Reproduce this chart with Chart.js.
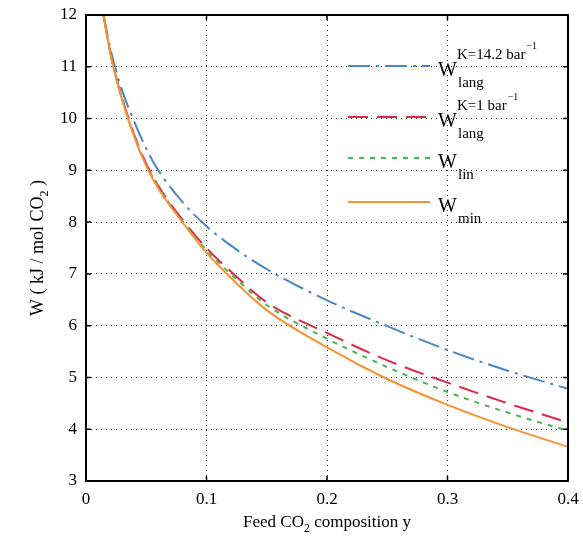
<!DOCTYPE html>
<html>
<head>
<meta charset="utf-8">
<script src="https://cdn.jsdelivr.net/npm/chart.js@4/dist/chart.umd.min.js"></script>
<style>
  html, body { margin: 0; padding: 0; background: #fff; }
  #wrap { width: 583px; height: 545px; }
</style>
</head>
<body>
<div id="wrap"><canvas id="myChart" width="583" height="545"></canvas></div>
<script>
// feed composition (x axis)
const feedY = [0.0145, 0.02, 0.025, 0.03, 0.04, 0.05, 0.06, 0.08, 0.1, 0.12, 0.15, 0.2, 0.25, 0.3, 0.35, 0.4];

// work values (kJ / mol CO2)
const wLangK142 = [12.0, 11.38, 10.92, 10.54, 9.94, 9.42, 9.0, 8.39, 7.92, 7.55, 7.09, 6.49, 5.99, 5.53, 5.13, 4.78];
const wLangK1   = [12.0, 11.3, 10.8, 10.39, 9.69, 9.13, 8.7, 8.05, 7.5, 7.05, 6.45, 5.86, 5.33, 4.9, 4.5, 4.13];
const wLin      = [12.0, 11.29, 10.79, 10.38, 9.67, 9.11, 8.68, 8.02, 7.46, 7.0, 6.4, 5.75, 5.2, 4.72, 4.32, 3.97];
const wMin      = [12.0, 11.28, 10.78, 10.36, 9.65, 9.08, 8.65, 8.0, 7.41, 6.93, 6.3, 5.58, 4.97, 4.47, 4.04, 3.66];

const xTicks = [0, 0.1, 0.2, 0.3, 0.4];
const yTicks = [3, 4, 5, 6, 7, 8, 9, 10, 11, 12];

const serif = '"Liberation Serif", "Times New Roman", serif';

const series = [
    { data: wLangK142, color: "rgb(74, 134, 196)", dash: [22, 6, 3, 6], sup: "K=14.2 bar", sub: "lang" },
    { data: wLangK1,   color: "rgb(222, 40, 72)",  dash: [20, 9],       sup: "K=1 bar",    sub: "lang" },
    { data: wLin,      color: "rgb(70, 180, 80)",  dash: [5, 6],        sup: null,         sub: "lin" },
    { data: wMin,      color: "rgb(246, 146, 52)", dash: [],            sup: null,         sub: "min" }
];

function toPoints(arr) {
    return feedY.map((x, i) => ({ x: x, y: arr[i] }));
}

// frame, inward ticks, axis titles and the legend with sub/superscripts
const decorations = {
    id: "decorations",
    afterDraw(chart) {
        const ctx = chart.ctx;
        const a = chart.chartArea;
        const xs = chart.scales.x, ys = chart.scales.y;
        ctx.save();

        // inward tick marks
        ctx.strokeStyle = "#000";
        ctx.lineWidth = 1.5;
        ctx.beginPath();
        xTicks.forEach(t => {
            const px = xs.getPixelForValue(t);
            ctx.moveTo(px, a.bottom); ctx.lineTo(px, a.bottom - 5);
            ctx.moveTo(px, a.top); ctx.lineTo(px, a.top + 5);
        });
        yTicks.forEach(t => {
            const py = ys.getPixelForValue(t);
            ctx.moveTo(a.left, py); ctx.lineTo(a.left + 5, py);
            ctx.moveTo(a.right, py); ctx.lineTo(a.right - 5, py);
        });
        ctx.stroke();

        // frame
        ctx.lineWidth = 2;
        ctx.strokeRect(a.left, a.top, a.right - a.left, a.bottom - a.top);

        ctx.fillStyle = "#000";
        ctx.textBaseline = "alphabetic";
        ctx.textAlign = "left";

        // x title
        const big = "17px " + serif, small = "12px " + serif;
        ctx.font = big;
        const p1 = "Feed CO", p3 = " composition y";
        const w1 = ctx.measureText(p1).width, w3 = ctx.measureText(p3).width;
        ctx.font = small;
        const w2 = ctx.measureText("2").width;
        let x0 = (a.left + a.right) / 2 - (w1 + w2 + w3) / 2;
        const by = 527;
        ctx.font = big; ctx.fillText(p1, x0, by);
        ctx.font = small; ctx.fillText("2", x0 + w1, by + 5);
        ctx.font = big; ctx.fillText(p3, x0 + w1 + w2, by);

        // y title (rotated)
        ctx.save();
        ctx.translate(43, (a.top + a.bottom) / 2);
        ctx.rotate(-Math.PI / 2);
        const q1 = "W ( kJ / mol CO", q3 = " )";
        const bigY = "18px " + serif;
        ctx.font = bigY;
        const v1 = ctx.measureText(q1).width, v3 = ctx.measureText(q3).width;
        ctx.font = small;
        const v2 = ctx.measureText("2").width;
        x0 = -(v1 + v2 + v3) / 2;
        ctx.font = bigY; ctx.fillText(q1, x0, 0);
        ctx.font = small; ctx.fillText("2", x0 + v1, 5);
        ctx.font = bigY; ctx.fillText(q3, x0 + v1 + v2, 0);
        ctx.restore();

        // legend
        const rows = [66, 117, 158, 202];
        series.forEach((s, i) => {
            const ly = rows[i];
            ctx.strokeStyle = s.color;
            ctx.lineWidth = 2;
            ctx.setLineDash(s.dash);
            ctx.beginPath();
            ctx.moveTo(348, ly); ctx.lineTo(430, ly);
            ctx.stroke();
            ctx.setLineDash([]);

            ctx.fillStyle = "#000";
            ctx.font = "20px " + serif;
            const wBase = ly + 10;
            ctx.fillText("W", 438, wBase);
            ctx.font = "15px " + serif;
            ctx.fillText(s.sub, 458, wBase + 11);
            if (s.sup) {
                ctx.fillText(s.sup, 457, wBase - 17);
                const sw = ctx.measureText(s.sup).width;
                ctx.font = "10px " + serif;
                ctx.fillText("\u22121", 457 + sw + 1, wBase - 27);
            }
        });

        ctx.restore();
    }
};

const ctx = document.getElementById("myChart").getContext("2d");
const chartInstance = new Chart(ctx, {
    type: "line",
    data: {
        datasets: series.map((s, i) => ({
            data: toPoints(s.data),
            borderColor: s.color,
            borderDash: s.dash,
            borderWidth: 2,
            pointRadius: 0,
            fill: false,
            cubicInterpolationMode: "monotone",
            order: 3 - i
        }))
    },
    options: {
        responsive: false,
        animation: false,
        layout: { padding: { left: 0, right: 15, top: 15, bottom: 0 } },
        plugins: {
            legend: { display: false },
            tooltip: { enabled: false }
        },
        scales: {
            x: {
                type: "linear",
                min: 0,
                max: 0.4,
                afterFit: scale => {
                    scale.height = 64;
                    scale.paddingLeft = 0;
                    scale.paddingRight = 0;
                },
                afterBuildTicks: scale => { scale.ticks = xTicks.map(v => ({ value: v })); },
                grid: { color: "rgba(0,0,0,0.85)", lineWidth: 1, drawTicks: false },
                border: { display: false, dash: [1, 4] },
                ticks: {
                    padding: 8,
                    color: "#000",
                    font: { family: serif, size: 17 },
                    callback: v => String(v)
                }
            },
            y: {
                min: 3,
                max: 12,
                afterFit: scale => {
                    scale.width = 86;
                    scale.paddingTop = 0;
                    scale.paddingBottom = 0;
                },
                afterBuildTicks: scale => { scale.ticks = yTicks.map(v => ({ value: v })); },
                grid: { color: "rgba(0,0,0,0.85)", lineWidth: 1, drawTicks: false },
                border: { display: false, dash: [1, 4] },
                ticks: {
                    padding: 9,
                    color: "#000",
                    font: { family: serif, size: 17 },
                    callback: v => String(v)
                }
            }
        }
    },
    plugins: [decorations]
});
</script>
</body>
</html>
